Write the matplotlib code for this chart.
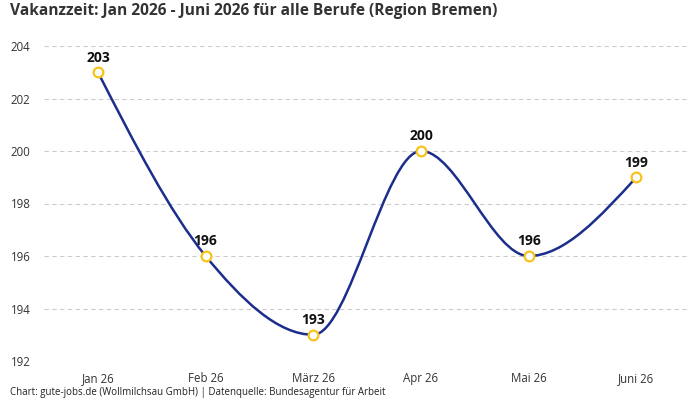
import numpy as np
import matplotlib
matplotlib.use("Agg")
import matplotlib.pyplot as plt
from matplotlib.path import Path
from matplotlib.patches import PathPatch

plt.rcParams["font.family"] = ["Open Sans", "DejaVu Sans"]

months = ["Jan 26", "Feb 26", "März 26", "Apr 26", "Mai 26", "Juni 26"]
vakanz = [203, 196, 193, 200, 196, 199]
yticks = [192, 194, 196, 198, 200, 202, 204]

LINE = "#1b2e8c"
MARK = "#f7c21b"
TXT = "#333333"


def monotone_path(xs, ys):
    # d3 curveMonotoneX as cubic bezier segments
    xs = np.asarray(xs, float); ys = np.asarray(ys, float)
    n = len(xs)
    h = np.diff(xs); s = np.diff(ys) / h
    t = np.zeros(n)
    for i in range(1, n - 1):
        p = (s[i - 1] * h[i] + s[i] * h[i - 1]) / (h[i - 1] + h[i])
        t[i] = (np.sign(s[i - 1]) + np.sign(s[i])) * min(abs(s[i - 1]), abs(s[i]), 0.5 * abs(p))
    t[0] = (3 * s[0] - t[1]) / 2
    t[-1] = (3 * s[-1] - t[-2]) / 2
    verts = [(xs[0], ys[0])]; codes = [Path.MOVETO]
    for i in range(n - 1):
        dx = (xs[i + 1] - xs[i]) / 3
        verts += [(xs[i] + dx, ys[i] + dx * t[i]), (xs[i + 1] - dx, ys[i + 1] - dx * t[i + 1]), (xs[i + 1], ys[i + 1])]
        codes += [Path.CURVE4] * 3
    return Path(verts, codes)


fig = plt.figure(figsize=(7, 4), dpi=100)
ax = fig.add_axes([0.063, 0.0975, 0.923, 0.7875])

x = np.arange(len(months))
ax.add_patch(PathPatch(monotone_path(x, vakanz), fill=False, ec=LINE, lw=1.8, zorder=3))
ax.plot(x, vakanz, ls="none", marker="o", ms=7, mfc="white", mec=MARK, mew=1.6, zorder=4)
for xi, v in zip(x, vakanz):
    ax.annotate(str(v), (xi, v), xytext=(0, 5.5), textcoords="offset points",
                ha="center", va="bottom", fontsize=10, fontweight="bold", color="#111111")

ax.set_xlim(-0.5, len(months) - 0.5)
ax.set_ylim(192, 204)
ax.set_xticks(x)
ax.set_xticklabels(months)
ax.set_yticks(yticks)
ax.tick_params(length=0, labelsize=8.3, labelcolor=TXT)
ax.tick_params(axis="x", pad=8)
for lab in ax.get_yticklabels():
    lab.set_horizontalalignment("left")
ax.yaxis.set_tick_params(pad=24)
ax.grid(axis="y", color="#cccccc", ls=(0, (4, 3)), lw=0.8)
ax.set_axisbelow(True)
for sp in ax.spines.values():
    sp.set_visible(False)

fig.text(10 / 700, 1 - 11 / 400, "Vakanzzeit: Jan 2026 - Juni 2026 für alle Berufe (Region Bremen)",
         ha="left", va="center", fontsize=11.2, fontweight="bold", color=TXT)
fig.text(10 / 700, 1 - 393 / 400, "Chart: gute-jobs.de (Wollmilchsau GmbH) | Datenquelle: Bundesagentur für Arbeit",
         ha="left", va="center", fontsize=7, color="#222222")

fig.savefig("out.png", dpi=100)
